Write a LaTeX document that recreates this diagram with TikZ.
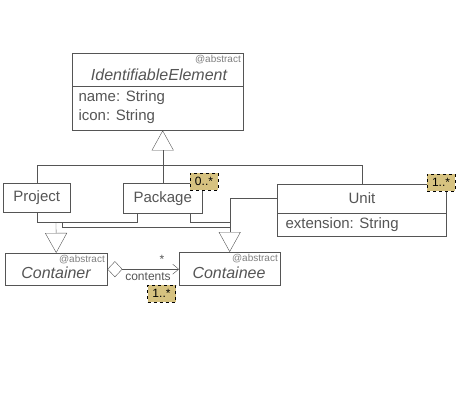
\documentclass[tikz,border=0pt]{standalone}
\usepackage{fontspec}
\setmainfont{Liberation Sans}
\usetikzlibrary{arrows.meta}
\definecolor{badgefill}{RGB}{214,194,128}
\definecolor{umlgray}{RGB}{85,85,85}

\begin{document}
\begin{tikzpicture}[x=1pt,y=-1pt,>=stealth,
  cls/.style={draw=umlgray,fill=white,anchor=north west,inner sep=0pt},
  txt/.style={font=\fontsize{15}{17}\selectfont,text=umlgray},
  abs/.style={font=\fontsize{16}{18}\selectfont\itshape,text=umlgray},
  tag/.style={font=\fontsize{10}{11}\selectfont,text=gray,anchor=north east,inner sep=1pt},
  mult/.style={draw,dashed,fill=badgefill,font=\fontsize{12}{13}\selectfont,minimum width=28pt,minimum height=17pt,inner sep=0pt},
  link/.style={draw=umlgray},
  gen/.style={draw=umlgray,-{Triangle[open,length=20pt,width=22pt]}},
  assoc/.style={draw=umlgray,{Diamond[open,length=15pt,width=16pt]}-{Straight Barb[length=6pt,width=10pt]}}]
\useasboundingbox (0,0) rectangle (460,400);

% classes
\node[cls,minimum width=171pt,minimum height=77pt] (ie) at (72,53) {};
\draw[link] (ie.west |- 0,86) -- (ie.east |- 0,86);
\node[tag] at (242,54) {@abstract};
\node[abs] at (159,75) {IdentifiableElement};
\node[txt,anchor=west] at (75,98) {name: String};
\node[txt,anchor=west] at (75,117) {icon: String};

\node[cls,minimum width=67pt,minimum height=29pt] (proj) at (3,183) {};
\node[txt] at (proj.center) {Project};
\node[cls,minimum width=79pt,minimum height=30pt] (pkg) at (123,183) {};
\node[txt] at (pkg.center) {Package};

\node[cls,minimum width=169pt,minimum height=52pt] (unit) at (277,184) {};
\draw[link] (unit.west |- 0,213) -- (unit.east |- 0,213);
\node[txt] at (362,198) {Unit};
\node[txt,anchor=west] at (282,225) {extension: String};

\node[cls,minimum width=102pt,minimum height=32pt] (cont) at (5,253) {};
\node[tag] at (106,254) {@abstract};
\node[abs] at (56,273) {Container};
\node[cls,minimum width=101pt,minimum height=33pt] (cee) at (179,252) {};
\node[tag] at (279,253) {@abstract};
\node[abs] at (229,273) {Containee};

% generalizations
\draw[gen] (pkg.north) -- (pkg.north |- ie.south);
\draw[link] (proj.north) -- ++(0,-18) -| (unit.north);

\coordinate (j1) at (56,222);
\coordinate (j2) at (62,222);
\draw[link] (proj.south) -- ++(0,10) -| ([xshift=-26pt]pkg.south);
\draw[gen] (j1) -- (cont.north);

\draw[gen] ([yshift=12pt]unit.west) -| (cee.north);
\draw[link] ([xshift=27pt]pkg.south) |- (cee.north |- 0,222);
\draw[link] (j2) |- (cee.north |- 0,227);

% containment
\draw[assoc] (cont.east) -- (cee.west |- cont.east);
\node[font=\fontsize{12}{13}\selectfont,text=umlgray] at (162,259) {*};
\node[font=\fontsize{12}{13}\selectfont,text=umlgray] at (148,277) {contents};

% multiplicities
\node[mult] (mpkg) at (204,181.5) {0..*};
\node[mult] (munit) at (441,182.5) {1..*};
\node[mult] (mcee) at (161.5,293.5) {1..*};
\end{tikzpicture}
\end{document}
